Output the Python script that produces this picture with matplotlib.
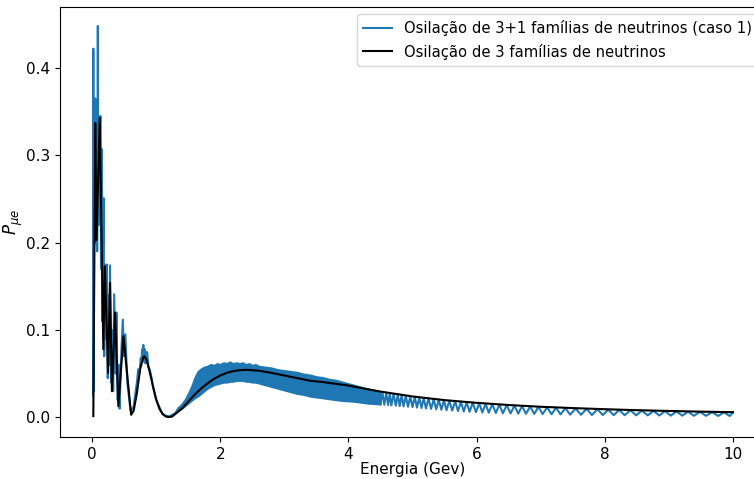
#!/usr/bin/env python3
# -*- coding: utf-8 -*-
import numpy as np
import matplotlib
matplotlib.use("Agg")
import matplotlib.pyplot as plt

# ----------------------- Data -----------------------
# 3 families (black)
E_3f = [0.02, 0.05, 0.07, 0.12, 0.176, 0.20, 0.25, 0.28, 0.31, 0.36, 0.41, 0.49, 0.61,
        0.65, 0.70, 0.75, 0.80, 0.815, 0.85, 0.90, 0.95, 1.00, 1.05, 1.10, 1.15, 1.20,
        1.25, 1.30, 1.40, 1.50, 1.60, 1.70, 1.80, 1.90, 2.00, 2.10, 2.20, 2.30, 2.40,
        2.50, 2.60, 2.80, 3.00, 3.20, 3.40, 3.60, 3.80, 4.00, 4.25, 4.50, 5.00, 5.50,
        6.00, 6.50, 7.00, 7.50, 8.00, 8.50, 9.00, 9.50, 10.0]
P_3f = [0.0015, 0.337, 0.203, 0.343, 0.078, 0.173, 0.051, 0.154, 0.030, 0.120, 0.013, 0.093, 0.003,
        0.008, 0.028, 0.055, 0.069, 0.070, 0.066, 0.052, 0.036, 0.021, 0.010, 0.004, 0.001, 0.0005,
        0.001, 0.004, 0.010, 0.018, 0.026, 0.033, 0.039, 0.044, 0.048, 0.051, 0.053, 0.054, 0.0545,
        0.054, 0.0535, 0.051, 0.048, 0.045, 0.042, 0.0405, 0.0385, 0.0365, 0.033, 0.0296, 0.024, 0.0198,
        0.0167, 0.0142, 0.0122, 0.0107, 0.0094, 0.0083, 0.0074, 0.0066, 0.006]

# 3+1 families (blue), low energy part
E_4f_low = [0.015, 0.02, 0.025, 0.035, 0.045, 0.05, 0.06, 0.07, 0.08, 0.09, 0.10, 0.11, 0.12,
            0.13, 0.14, 0.15, 0.16, 0.18, 0.19, 0.20, 0.215, 0.23, 0.245, 0.26, 0.275, 0.28,
            0.30, 0.31, 0.33, 0.345, 0.37, 0.38, 0.40, 0.42, 0.43, 0.46, 0.48, 0.50, 0.52,
            0.55, 0.60, 0.65, 0.68, 0.70, 0.72, 0.74, 0.76, 0.77, 0.78, 0.79, 0.80, 0.81,
            0.82, 0.83, 0.84, 0.86, 0.88, 0.90, 0.93, 0.95, 1.00, 1.05, 1.10, 1.15, 1.20,
            1.25, 1.30, 1.35]
P_4f_low = [0.025, 0.422, 0.030, 0.360, 0.300, 0.365, 0.200, 0.330, 0.190, 0.448, 0.220, 0.340, 0.270,
            0.345, 0.170, 0.307, 0.110, 0.251, 0.070, 0.175, 0.090, 0.175, 0.045, 0.140, 0.060, 0.174,
            0.040, 0.100, 0.030, 0.141, 0.050, 0.120, 0.020, 0.060, 0.010, 0.080, 0.112, 0.070, 0.095,
            0.040, 0.008, 0.012, 0.030, 0.040, 0.055, 0.052, 0.068, 0.062, 0.078, 0.065, 0.083, 0.064,
            0.078, 0.062, 0.070, 0.075, 0.058, 0.055, 0.045, 0.035, 0.020, 0.012, 0.004, 0.002, 0.001,
            0.003, 0.005, 0.011]

# 3+1 families, dense band (fast oscillations not resolved)
E_band = [1.35, 1.40, 1.45, 1.50, 1.55, 1.60, 1.65, 1.70, 1.75, 1.80, 1.85, 1.90, 1.95, 2.00, 2.05,
          2.10, 2.15, 2.20, 2.25, 2.30, 2.35, 2.40, 2.45, 2.50, 2.55, 2.60, 2.70, 2.80, 2.90, 3.00,
          3.10, 3.20, 3.30, 3.40, 3.50, 3.60, 3.70, 3.80, 3.90, 4.00, 4.10, 4.20, 4.30, 4.40, 4.50]
P_band_hi = [0.012, 0.016, 0.021, 0.028, 0.036, 0.046, 0.053, 0.056, 0.058, 0.059, 0.061, 0.060, 0.062,
             0.061, 0.063, 0.062, 0.064, 0.062, 0.063, 0.062, 0.063, 0.061, 0.062, 0.060, 0.061, 0.059,
             0.058, 0.057, 0.055, 0.054, 0.053, 0.052, 0.050, 0.049, 0.047, 0.046, 0.044, 0.043, 0.041,
             0.039, 0.037, 0.035, 0.033, 0.031, 0.0285]
P_band_lo = [0.008, 0.010, 0.013, 0.016, 0.019, 0.022, 0.024, 0.027, 0.030, 0.033, 0.035, 0.037, 0.038,
             0.039, 0.040, 0.040, 0.041, 0.041, 0.042, 0.042, 0.042, 0.041, 0.041, 0.040, 0.040, 0.039,
             0.037, 0.035, 0.033, 0.031, 0.029, 0.027, 0.026, 0.024, 0.023, 0.022, 0.021, 0.020, 0.019,
             0.0186, 0.018, 0.017, 0.016, 0.0155, 0.015]

# 3+1 families, high energy: troughs and crests of the visible oscillation
E_trough = [4.50, 4.56, 4.62, 4.67, 4.74, 4.80, 4.86, 4.93, 5.00, 5.07, 5.14, 5.21, 5.29, 5.37, 5.45,
            5.53, 5.62, 5.71, 5.80, 5.89, 5.99, 6.09, 6.19, 6.30, 6.41, 6.53, 6.65, 6.77, 6.90, 7.03,
            7.17, 7.31, 7.46, 7.63, 7.80, 7.97, 8.14, 8.31, 8.49, 8.67, 8.85, 9.03, 9.21, 9.39, 9.58,
            9.77, 9.95]
P_trough = [0.0150, 0.0146, 0.0142, 0.0138, 0.0134, 0.0130, 0.0126, 0.0122, 0.0118, 0.0113, 0.0108,
            0.0103, 0.0098, 0.0093, 0.0088, 0.0083, 0.0078, 0.0073, 0.0068, 0.0064, 0.0060, 0.0057,
            0.0054, 0.0051, 0.0048, 0.0046, 0.0044, 0.0042, 0.0040, 0.0038, 0.0036, 0.0034, 0.0032,
            0.0030, 0.0028, 0.0027, 0.0026, 0.0025, 0.0024, 0.0023, 0.0022, 0.0021, 0.0020, 0.0019,
            0.0018, 0.0017, 0.0016]
E_crest = [4.53, 4.59, 4.645, 4.705, 4.77, 4.83, 4.895, 4.965, 5.035, 5.105, 5.175, 5.25, 5.33, 5.41,
           5.49, 5.575, 5.665, 5.755, 5.845, 5.94, 6.04, 6.14, 6.245, 6.355, 6.47, 6.59, 6.71, 6.835,
           6.965, 7.10, 7.24, 7.385, 7.545, 7.715, 7.885, 8.055, 8.225, 8.40, 8.58, 8.76, 8.94, 9.12,
           9.30, 9.485, 9.675, 9.86, 10.0]
P_crest = [0.0289, 0.0282, 0.0275, 0.0268, 0.0261, 0.0254, 0.0247, 0.0240, 0.0234, 0.0227, 0.0221,
           0.0215, 0.0208, 0.0202, 0.0196, 0.0190, 0.0184, 0.0178, 0.0173, 0.0167, 0.0161, 0.0156,
           0.0151, 0.0146, 0.0140, 0.0135, 0.0130, 0.0125, 0.0121, 0.0116, 0.0111, 0.0107, 0.0102,
           0.0098, 0.0094, 0.0089, 0.0086, 0.0082, 0.0079, 0.0075, 0.0072, 0.0069, 0.0066, 0.0064,
           0.0061, 0.0059, 0.0058]

LABEL_4F = "Osilação de 3+1 famílias de neutrinos (caso 1)"
LABEL_3F = "Osilação de 3 famílias de neutrinos"
BLUE = "#1f77b4"

# ----------------------- Figure -----------------------
fig = plt.figure(figsize=(7.54, 4.79), dpi=100)
# axes runs a bit past the right edge, like the cropped original
ax = fig.add_axes([60/754, 42/479, 705/754, 430/479])

ax.plot(E_4f_low, P_4f_low, color=BLUE, lw=1.5, label=LABEL_4F)
ax.fill_between(E_band, P_band_lo, P_band_hi, color=BLUE, lw=1.0, edgecolor=BLUE)

E_hi = np.concatenate([E_trough, E_crest])
P_hi = np.concatenate([P_trough, P_crest])
order = np.argsort(E_hi)
ax.plot(E_hi[order], P_hi[order], color=BLUE, lw=1.5)

ax.plot(E_3f, P_3f, color="black", lw=1.5, label=LABEL_3F)

ax.set_xlim(-0.5, 10.5)
ax.set_ylim(-0.0224, 0.4697)
ax.set_xticks([0, 2, 4, 6, 8, 10])
ax.set_yticks([0.0, 0.1, 0.2, 0.3, 0.4])
ax.tick_params(labelsize=11)
ax.set_xlabel("Energia (Gev)", fontsize=11, labelpad=0)
ax.set_ylabel(r"$P_{\mu e}$", fontsize=12, labelpad=1)
ax.legend(loc="upper right", fontsize=10.6)

fig.savefig("out.png", dpi=100)
